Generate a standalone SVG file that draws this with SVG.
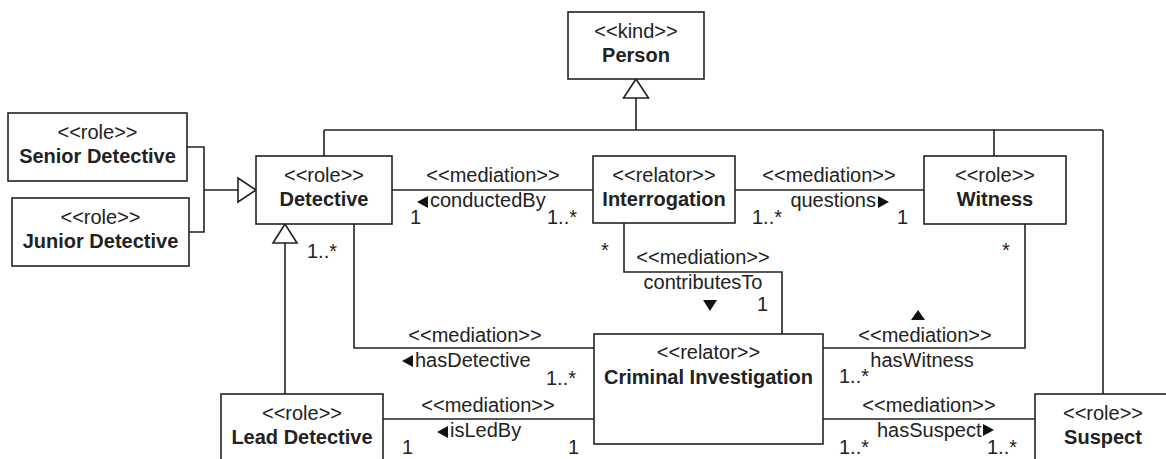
<svg xmlns="http://www.w3.org/2000/svg" width="1166" height="459" viewBox="0 0 1166 459">
  <defs>
    <style>
      .box { fill: #ffffff; stroke: #222222; stroke-width: 1.6; }
      .edge { fill: none; stroke: #222222; stroke-width: 1.6; }
      .gen { fill: #ffffff; stroke: #222222; stroke-width: 1.6; }
      .dir { fill: #111111; stroke: none; }
      text { font-family: "Liberation Sans", Arial, Helvetica, sans-serif; font-size: 20px; fill: #222222; }
      .st { text-anchor: middle; }
      .nm { text-anchor: middle; font-weight: bold; }
      .mid { text-anchor: middle; }
      .end { text-anchor: end; }
    </style>
  </defs>

  <!-- connectors -->
  <g id="connectors">
    <!-- generalization into Person -->
    <path class="edge" d="M636 98 V130 M324 130 H1103 M324 130 V156 M994 130 V156 M1103 130 V394"/>
    <polygon class="gen" points="636,79 623.5,98 648.5,98"/>

    <!-- generalization into Detective (Senior / Junior) -->
    <path class="edge" d="M187 147 H204 V232 H189 M204 190 H238"/>
    <polygon class="gen" points="256,190 238,178 238,202"/>

    <!-- generalization Lead Detective into Detective -->
    <path class="edge" d="M285 243 V394"/>
    <polygon class="gen" points="285,224 273,243 297,243"/>

    <!-- conductedBy -->
    <path class="edge" d="M392 190 H593"/>
    <text class="mid" x="493" y="182">&lt;&lt;mediation&gt;&gt;</text>
    <polygon class="dir" points="417,202 428,196 428,208"/>
    <text x="430" y="207">conductedBy</text>
    <text x="410" y="224">1</text>
    <text x="547" y="224">1..*</text>

    <!-- questions -->
    <path class="edge" d="M735 190 H924"/>
    <text class="mid" x="829" y="182">&lt;&lt;mediation&gt;&gt;</text>
    <text class="end" x="876" y="207">questions</text>
    <polygon class="dir" points="889,202 878,196 878,208"/>
    <text x="752" y="224">1..*</text>
    <text x="897" y="224">1</text>

    <!-- contributesTo -->
    <path class="edge" d="M624 223 V272 H782 V334"/>
    <text class="mid" x="703" y="264">&lt;&lt;mediation&gt;&gt;</text>
    <text class="mid" x="703" y="289">contributesTo</text>
    <polygon class="dir" points="703,300 717,300 710,311"/>
    <text x="601" y="257">*</text>
    <text x="757" y="311">1</text>

    <!-- hasDetective -->
    <path class="edge" d="M354 224 V348 H594"/>
    <text x="307" y="258">1..*</text>
    <text class="mid" x="475" y="342">&lt;&lt;mediation&gt;&gt;</text>
    <polygon class="dir" points="402,361 413,355 413,367"/>
    <text x="415" y="367">hasDetective</text>
    <text x="546" y="385">1..*</text>

    <!-- hasWitness -->
    <path class="edge" d="M1025 224 V348 H823"/>
    <text x="1002" y="257">*</text>
    <polygon class="dir" points="918,310 911,320 925,320"/>
    <text class="mid" x="925" y="342">&lt;&lt;mediation&gt;&gt;</text>
    <text class="mid" x="922" y="367">hasWitness</text>
    <text x="839" y="383">1..*</text>

    <!-- isLedBy -->
    <path class="edge" d="M383 419 H594"/>
    <text class="mid" x="488" y="412">&lt;&lt;mediation&gt;&gt;</text>
    <polygon class="dir" points="437,432 448,426 448,438"/>
    <text x="450" y="437">isLedBy</text>
    <text x="402" y="454">1</text>
    <text x="568" y="454">1</text>

    <!-- hasSuspect -->
    <path class="edge" d="M823 419 H1035"/>
    <text class="mid" x="929" y="412">&lt;&lt;mediation&gt;&gt;</text>
    <text x="877" y="437">hasSuspect</text>
    <polygon class="dir" points="994,430 983,424 983,436"/>
    <text x="839" y="454">1..*</text>
    <text x="987" y="454">1..*</text>
  </g>

  <!-- nodes -->
  <g id="person">
    <rect class="box" x="568" y="12" width="136" height="67"/>
    <text class="st" x="636" y="38">&lt;&lt;kind&gt;&gt;</text>
    <text class="nm" x="636" y="62">Person</text>
  </g>

  <g id="senior-detective">
    <rect class="box" x="8" y="113" width="179" height="68"/>
    <text class="st" x="97.5" y="139">&lt;&lt;role&gt;&gt;</text>
    <text class="nm" x="97.5" y="163">Senior Detective</text>
  </g>

  <g id="junior-detective">
    <rect class="box" x="12" y="198" width="177" height="68"/>
    <text class="st" x="100.5" y="224">&lt;&lt;role&gt;&gt;</text>
    <text class="nm" x="100.5" y="248">Junior Detective</text>
  </g>

  <g id="detective">
    <rect class="box" x="256" y="156" width="136" height="68"/>
    <text class="st" x="324" y="182">&lt;&lt;role&gt;&gt;</text>
    <text class="nm" x="324" y="206">Detective</text>
  </g>

  <g id="interrogation">
    <rect class="box" x="593" y="156" width="142" height="67"/>
    <text class="st" x="664" y="182">&lt;&lt;relator&gt;&gt;</text>
    <text class="nm" x="664" y="206">Interrogation</text>
  </g>

  <g id="witness">
    <rect class="box" x="924" y="156" width="142" height="68"/>
    <text class="st" x="995" y="182">&lt;&lt;role&gt;&gt;</text>
    <text class="nm" x="995" y="206">Witness</text>
  </g>

  <g id="criminal-investigation">
    <rect class="box" x="594" y="334" width="229" height="110"/>
    <text class="st" x="708.5" y="359">&lt;&lt;relator&gt;&gt;</text>
    <text class="nm" x="708.5" y="384">Criminal Investigation</text>
  </g>

  <g id="lead-detective">
    <rect class="box" x="221" y="394" width="162" height="72"/>
    <text class="st" x="302" y="420">&lt;&lt;role&gt;&gt;</text>
    <text class="nm" x="302" y="444">Lead Detective</text>
  </g>

  <g id="suspect">
    <rect class="box" x="1035" y="394" width="136" height="72"/>
    <text class="st" x="1103" y="420">&lt;&lt;role&gt;&gt;</text>
    <text class="nm" x="1103" y="444">Suspect</text>
  </g>
</svg>
